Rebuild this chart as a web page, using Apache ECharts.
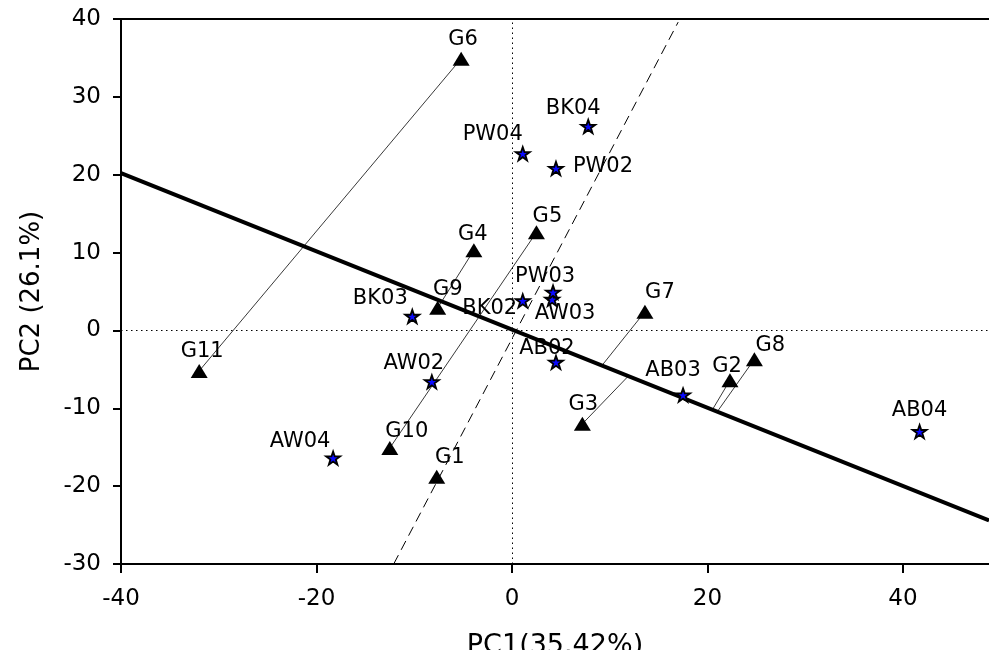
<!DOCTYPE html>
<html>
<head>
<meta charset="utf-8">
<script src="https://cdn.jsdelivr.net/npm/echarts@6/dist/echarts.min.js"></script>
<style>
  html, body { margin: 0; padding: 0; background: #fff; }
  #chart { width: 989px; height: 650px; }
</style>
</head>
<body>
<div id="chart"></div>
<script>
// genotypes (triangles)
const genoNames = ['G1', 'G2', 'G3', 'G4', 'G5', 'G6', 'G7', 'G8', 'G9', 'G10', 'G11'];
const genoPC1 = [-7.7, 22.3, 7.2, -3.9, 2.5, -5.2, 13.6, 24.8, -7.6, -12.5, -32.0];
const genoPC2 = [-18.8, -6.4, -12.0, 10.3, 12.6, 34.9, 2.4, -3.7, 2.9, -15.1, -5.2];

// environments (stars)
const envNames = ['AB02', 'AB03', 'AB04', 'AW02', 'AW03', 'AW04', 'BK02', 'BK03', 'BK04', 'PW02', 'PW03', 'PW04'];
const envPC1 = [4.5, 17.5, 41.7, -8.2, 4.1, -18.3, 1.1, -10.2, 7.8, 4.5, 4.2, 1.1];
const envPC2 = [-4.1, -8.3, -13.0, -6.6, 4.0, -16.4, 3.8, 1.8, 26.2, 20.8, 4.9, 22.7];

const xTicks = [-40, -20, 0, 20, 40];
const xRange = [-40, 48.8];
const yRange = [-30, 40];

// axis lines through the plot
const atcAbscissa = [[-40, 20.2], [48.8, -24.4]];
const atcOrdinate = [[-12.1, -30], [17.0, 39.6]];

// thin lines: genotype to genotype, or genotype to a PC1 position on the thick line
const genoLinks = [['G6', 'G11'], ['G4', 'G9'], ['G5', 'G10']];
const genoFeet = [['G7', 9.2], ['G3', 11.9], ['G2', 20.5], ['G8', 21.0]];

// label placement (pixels from the marker centre)
const labelOffsets = {
  G1: [13, -19], G2: [-3, -14], G3: [1, -19], G4: [-1, -16], G5: [11, -16], G6: [2, -19],
  G7: [15, -19], G8: [16, -14], G9: [10, -18], G10: [17, -16], G11: [3, -19],
  AB02: [-9, -14], AB03: [-10, -25], AB04: [0, -21], AW02: [-18, -18], AW03: [13, 14],
  AW04: [-33, -17], BK02: [-33, 8], BK03: [-32, -18], BK04: [-15, -18], PW02: [47, -2],
  PW03: [-8, -16], PW04: [-30, -19]
};

const FONT = 'DejaVu Sans';
const starPath = 'path://M50 2 L62 37 L99 37 L69 59 L80 95 L50 73 L20 95 L31 59 L1 37 L38 37 Z';

function genoPoint(name) {
  const i = genoNames.indexOf(name);
  return [genoPC1[i], genoPC2[i]];
}
function onAbscissa(x) {
  const [p0, p1] = atcAbscissa;
  return [x, p0[1] + (x - p0[0]) * (p1[1] - p0[1]) / (p1[0] - p0[0])];
}

const thinLines = genoLinks.map(([a, b]) => ({ coords: [genoPoint(a), genoPoint(b)] }))
  .concat(genoFeet.map(([g, fx]) => ({ coords: [genoPoint(g), onAbscissa(fx)] })));

function pointLabel(name) {
  return {
    show: true,
    position: 'inside',
    offset: labelOffsets[name] || [0, -18],
    formatter: name,
    color: '#000',
    fontFamily: FONT,
    fontSize: 21,
    align: 'center',
    verticalAlign: 'middle'
  };
}

const chart = echarts.init(document.getElementById('chart'));
chart.setOption({
  backgroundColor: '#fff',
  animation: false,
  grid: { left: 121, right: 0, top: 19, bottom: 86, outerBoundsMode: 'none', containLabel: false },
  xAxis: [{
    type: 'value',
    min: xRange[0], max: xRange[1], interval: 20,
    name: 'PC1(35.42%)', nameLocation: 'middle', nameGap: 68,
    nameTextStyle: { fontFamily: FONT, fontSize: 27, color: '#000' },
    axisLine: { onZero: false, lineStyle: { color: '#000', width: 2 } },
    axisTick: { show: true, inside: false, length: 9, customValues: xTicks, lineStyle: { color: '#000', width: 2 } },
    axisLabel: { customValues: xTicks, margin: 24, fontFamily: FONT, fontSize: 23, color: '#000' },
    splitLine: { show: false }
  }, {
    type: 'value', position: 'top',
    min: xRange[0], max: xRange[1],
    axisLine: { onZero: false, lineStyle: { color: '#000', width: 2 } },
    axisTick: { show: false }, axisLabel: { show: false }, splitLine: { show: false }
  }],
  yAxis: {
    type: 'value',
    min: yRange[0], max: yRange[1], interval: 10,
    name: 'PC2 (26.1%)', nameLocation: 'middle', nameGap: 76,
    nameTextStyle: { fontFamily: FONT, fontSize: 26, color: '#000' },
    axisLine: { show: true, onZero: false, lineStyle: { color: '#000', width: 2 } },
    axisTick: { show: true, inside: false, length: 8, lineStyle: { color: '#000', width: 2 } },
    axisLabel: { margin: 20, fontFamily: FONT, fontSize: 23, color: '#000' },
    splitLine: { show: false }
  },
  series: [
    {
      // dotted zero lines
      type: 'line', data: [], silent: true,
      markLine: {
        symbol: 'none', silent: true, label: { show: false },
        lineStyle: { color: '#000', type: [1.5, 3.5], width: 1 },
        data: [{ xAxis: 0 }, { yAxis: 0 }]
      }
    },
    {
      type: 'lines', coordinateSystem: 'cartesian2d', silent: true, z: 2,
      lineStyle: { color: '#222', width: 0.9, opacity: 1 },
      data: thinLines
    },
    {
      type: 'line', data: atcOrdinate, symbol: 'none', silent: true, z: 2,
      lineStyle: { color: '#000', width: 1, type: [10, 6] }
    },
    {
      type: 'line', data: atcAbscissa, symbol: 'none', silent: true, z: 3,
      lineStyle: { color: '#000', width: 4 }
    },
    {
      type: 'scatter', z: 5,
      symbol: 'triangle', symbolSize: [17, 14],
      itemStyle: { color: '#000', opacity: 1 },
      data: genoNames.map((n, i) => ({ name: n, value: [genoPC1[i], genoPC2[i]], label: pointLabel(n) }))
    },
    {
      type: 'scatter', z: 5,
      symbol: starPath, symbolSize: 14, symbolKeepAspect: true,
      itemStyle: { color: '#0a0aff', borderColor: '#000', borderWidth: 1.8, opacity: 1 },
      data: envNames.map((n, i) => ({ name: n, value: [envPC1[i], envPC2[i]], label: pointLabel(n) }))
    }
  ]
});
</script>
</body>
</html>
